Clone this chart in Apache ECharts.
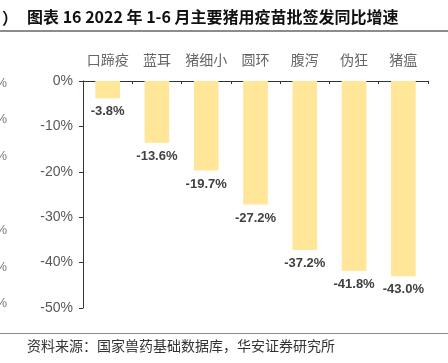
<!DOCTYPE html>
<html><head><meta charset="utf-8">
<script src="https://cdn.jsdelivr.net/npm/echarts@6/dist/echarts.min.js"></script>
<style>html,body{margin:0;padding:0;background:#fff}#c{width:448px;height:363px}</style>
</head><body><div id="c"></div>
<script>
const categories = ['口蹄疫','蓝耳','猪细小','圆环','腹泻','伪狂','猪瘟'];
const growth = [-3.8, -13.6, -19.7, -27.2, -37.2, -41.8, -43.0];
const yTicks = [0, -10, -20, -30, -40, -50];

const chart = echarts.init(document.getElementById('c'), null, {renderer: 'canvas'});
const sideY = [83, 119, 156, 230, 267, 303];
const graphics = [
  {type:'text', left:2, top:10, style:{text:'）', font:'bold 16px "Noto Sans CJK SC"', fill:'#111'}},
  {type:'text', left:27, top:9, style:{text:'图表 16 2022 年 1-6 月主要猪用疫苗批签发同比增速', font:'bold 16px "Noto Sans CJK SC"', fill:'#111'}},
  {type:'line', shape:{x1:0, y1:31, x2:448, y2:31}, style:{stroke:'#8c8c8c', lineWidth:2}},
  {type:'line', shape:{x1:0, y1:333.5, x2:448, y2:333.5}, style:{stroke:'#8c8c8c', lineWidth:1}},
  {type:'text', left:27, top:339, style:{text:'资料来源：国家兽药基础数据库，华安证券研究所', font:'14px "Noto Sans CJK SC"', fill:'#333'}}
];
sideY.forEach(y => graphics.push({type:'text', x:7, y:y, style:{text:'%', font:'13px "Liberation Sans"', fill:'#777', align:'right', verticalAlign:'middle'}}));

chart.setOption({
  animation:false,
  grid:{left:83, right:20, top:81, bottom:55},
  xAxis:{
    type:'category', data:categories, position:'top',
    axisLine:{show:true, onZero:true, lineStyle:{color:'#333', width:1}},
    axisTick:{show:true, inside:true, length:3, lineStyle:{color:'#333'}},
    axisLabel:{color:'#666', fontSize:14, margin:14, interval:0, fontFamily:'"Noto Sans CJK SC"'}
  },
  yAxis:{
    type:'value', min:-50, max:0, interval:10,
    axisLine:{show:true, lineStyle:{color:'#333', width:1}},
    axisTick:{show:true, length:4, lineStyle:{color:'#333'}},
    splitLine:{show:false},
    axisLabel:{color:'#595959', fontSize:14, margin:10, fontFamily:'"Liberation Sans"', formatter:v => v + '%'}
  },
  series:[{
    type:'bar', data:growth, barWidth:'50%',
    itemStyle:{color:'#FFE699'},
    label:{show:true, position:'bottom', distance:7, formatter:p => p.value.toFixed(1) + '%',
      color:'#404040', fontWeight:'bold', fontSize:13, fontFamily:'"Liberation Sans"'}
  }],
  graphic:graphics
});
</script></body></html>
